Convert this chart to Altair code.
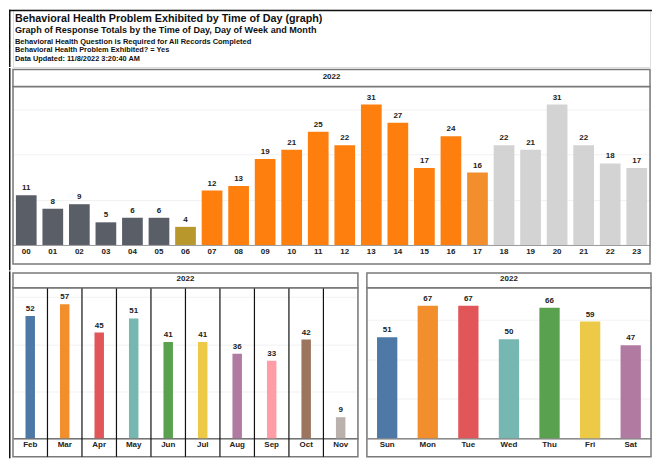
import altair as alt
import pandas as pd

FONT = "Liberation Sans"
BOX = "#7a7a7a"
FRAME = "#111111"
TXT = "#222222"

title_lines = [
    "Behavioral Health Problem Exhibited by Time of Day (graph)",
    "Graph of Response Totals by the Time of Day, Day of Week and Month",
    "Behavioral Health Question is Required for All Records Completed",
    "Behavioral Health Problem Exhibited? = Yes",
    "Data Updated: 11/8/2022 3:20:40 AM",
]
title_sizes = [10.8, 9.1, 7.5, 7.4, 7.4]
title_baselines = [12, 23.5, 34, 42.5, 51]
panel_header = "2022"

hours = ["00", "01", "02", "03", "04", "05", "06", "07", "08", "09", "10", "11",
         "12", "13", "14", "15", "16", "17", "18", "19", "20", "21", "22", "23"]
hour_counts = [11, 8, 9, 5, 6, 6, 4, 12, 13, 19, 21, 25, 22, 31, 27, 17, 24, 16, 22, 21, 31, 22, 18, 17]
hour_palette = ["#5a5e67"] * 6 + ["#b8982d"] + ["#ff7f0e"] * 10 + ["#f28e2b"] + ["#d3d3d3"] * 6

months = ["Feb", "Mar", "Apr", "May", "Jun", "Jul", "Aug", "Sep", "Oct", "Nov"]
month_counts = [52, 57, 45, 51, 41, 41, 36, 33, 42, 9]
month_palette = ["#4e79a7", "#f28e2b", "#e15759", "#76b7b2", "#59a14f",
                 "#edc948", "#b07aa1", "#ff9da7", "#9c755f", "#bab0ac"]

days = ["Sun", "Mon", "Tue", "Wed", "Thu", "Fri", "Sat"]
day_counts = [51, 67, 67, 50, 66, 59, 47]
day_palette = ["#4e79a7", "#f28e2b", "#e15759", "#76b7b2", "#59a14f", "#edc948", "#b07aa1"]


def deco():
    return alt.Chart(pd.DataFrame({"k": [0]}))


def frame_rect(x1, x2, y1, y2):
    return deco().mark_rect(color=FRAME).encode(
        x=alt.value(x1), x2=alt.value(x2), y=alt.value(y1), y2=alt.value(y2))


def make_x(cat, cats, xscale, domain_color, **kw):
    return alt.X(f"{cat}:N", sort=cats, scale=xscale,
                 axis=alt.Axis(title=None, labelAngle=0, labelFont=FONT, labelFontSize=8,
                               labelFontWeight="bold", labelColor=TXT, ticks=False,
                               domain=True, domainColor=domain_color, domainWidth=1,
                               labelPadding=2.5, grid=False),
                 **kw)


def panel(cat, cats, counts, palette, width, height, ymax, grid_vals, header_h, box_h,
          frame_bottom, xscale, bar_kw, domain_color, dividers=False, frame=False):
    df = pd.DataFrame({cat: cats, "count": counts})
    x = make_x(cat, cats, xscale, domain_color)
    y = alt.Y("count:Q", scale=alt.Scale(domain=[0, ymax], nice=False, zero=True),
              axis=alt.Axis(title=None, labels=False, ticks=False, domain=False, grid=True,
                            gridColor="#f1f1f1", gridWidth=1, values=grid_vals))
    base = alt.Chart(df)
    layers = []
    layers.append(deco().mark_rect(fill="transparent", stroke=BOX, strokeWidth=1.5).encode(
        x=alt.value(0), x2=alt.value(width), y=alt.value(0), y2=alt.value(box_h)))
    layers.append(base.mark_bar(**bar_kw).encode(
        x=x, y=y,
        color=alt.Color(f"{cat}:N", scale=alt.Scale(domain=cats, range=palette), legend=None)))
    layers.append(base.mark_text(baseline="bottom", dy=-3, font=FONT, fontSize=8,
                                 fontWeight="bold", color=TXT).encode(x=x, y=y, text="count:Q"))
    if dividers:
        ddf = pd.DataFrame({cat: cats[1:]})
        xd = make_x(cat, cats, xscale, domain_color, bandPosition=0)
        layers.append(alt.Chart(ddf).mark_rule(color=FRAME, strokeWidth=1.2).encode(
            x=xd, y=alt.value(0), y2=alt.value(box_h)))
    layers.append(deco().mark_rect(fill="white", stroke=BOX, strokeWidth=1.5).encode(
        x=alt.value(0), x2=alt.value(width), y=alt.value(-header_h), y2=alt.value(0)))
    layers.append(deco().mark_text(font=FONT, fontSize=8, fontWeight="bold", color=TXT,
                                   baseline="middle", align="center", dy=-1).encode(
        x=alt.value(width / 2), y=alt.value(-header_h / 2), text=alt.value(panel_header)))
    if frame:
        layers.append(frame_rect(-4, -2.5, -header_h - 1.5, frame_bottom))
    return alt.layer(*layers).properties(width=width, height=height)


# Title block
t_layers = [frame_rect(-4, 641, 0, 1.5), frame_rect(-4, -2.5, 0, 57.5)]
for line, fs, yb in zip(title_lines, title_sizes, title_baselines):
    t_layers.append(
        alt.Chart(pd.DataFrame({"t": [line]})).mark_text(
            align="left", baseline="alphabetic", font=FONT, fontSize=fs,
            fontWeight="bold", color="#111").encode(
            x=alt.value(2), y=alt.value(yb), text="t:N"))
title_chart = alt.layer(*t_layers).properties(width=639, height=57.5)

top = panel("hour", hours, hour_counts, hour_palette, 639, 159, 35, [10, 20, 30], 17, 178, 184.5,
            alt.Scale(domain=hours, paddingInner=0.22, paddingOuter=0.11), {}, "#9a9a9a",
            frame=True)

bl = panel("month", months, month_counts, month_palette, 346, 151, 64, [20, 40, 60], 15, 169.5, 171,
           alt.Scale(domain=months, paddingInner=0, paddingOuter=0), {"size": 9.5}, "#333333",
           dividers=True, frame=True)

br = panel("day", days, day_counts, day_palette, 285, 151, 76, [20, 40, 60], 15, 169.5, 169.5,
           alt.Scale(domain=days, paddingInner=0.5, paddingOuter=0.25), {}, "#555555")

bottom = alt.hconcat(bl, br, spacing=5).resolve_scale(color="independent")

chart = alt.vconcat(
    title_chart, top, bottom, spacing=0
).resolve_scale(color="independent").properties(padding=0).configure_view(
    stroke="transparent").configure(font=FONT)

chart.save("out.html", embed_options={"renderer": "svg", "actions": False})
